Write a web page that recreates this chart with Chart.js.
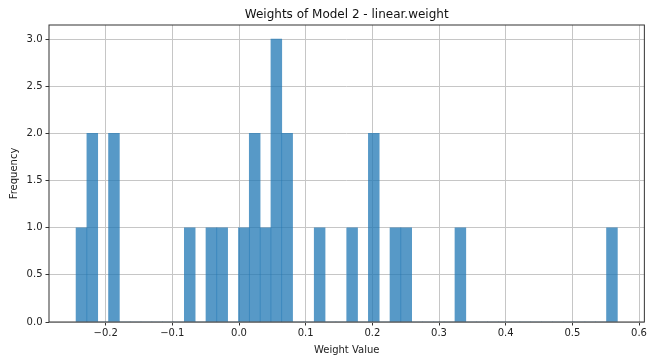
<!DOCTYPE html>
<html>
<head>
<meta charset="utf-8">
<script src="https://cdn.jsdelivr.net/npm/chart.js@4.4.1/dist/chart.umd.min.js"></script>
<style>
  html, body { margin: 0; padding: 0; background: #fff; }
  #wrap { width: 649px; height: 359px; }
</style>
</head>
<body>
<div id="wrap"><canvas id="chart"></canvas></div>
<script>
// histogram: 50 bins between the smallest and largest weight
const binStart = -0.2444;
const binEnd = 0.5675;
const binCounts = [
  1, 2, 0, 2, 0, 0, 0, 0, 0, 0,
  1, 0, 1, 1, 0, 1, 2, 1, 3, 2,
  0, 0, 1, 0, 0, 1, 0, 2, 0, 1,
  1, 0, 0, 0, 0, 1, 0, 0, 0, 0,
  0, 0, 0, 0, 0, 0, 0, 0, 0, 1
];
const xTicks = [-0.2, -0.1, 0.0, 0.1, 0.2, 0.3, 0.4, 0.5, 0.6];
const yTicks = [0.0, 0.5, 1.0, 1.5, 2.0, 2.5, 3.0];

const binWidth = (binEnd - binStart) / binCounts.length;
const histData = binCounts.map((c, i) => ({ x: binStart + (i + 0.5) * binWidth, y: c }));

const fmt = v => v.toFixed(1).replace('-', '\u2212');
const font = { family: 'DejaVu Sans', size: 10 };

// matplotlib draws all four spines and centres the title over the axes
const framePlugin = {
  id: 'frame',
  afterDraw(chart) {
    const { ctx, chartArea: a } = chart;
    ctx.save();
    ctx.strokeStyle = '#333';
    ctx.lineWidth = 1;
    ctx.strokeRect(a.left, a.top, a.right - a.left, a.bottom - a.top);
    ctx.fillStyle = '#111';
    ctx.font = '12px "DejaVu Sans"';
    ctx.textAlign = 'center';
    ctx.textBaseline = 'alphabetic';
    ctx.fillText('Weights of Model 2 - linear.weight', (a.left + a.right) / 2, 17.5);
    ctx.restore();
  }
};

new Chart(document.getElementById('chart'), {
  type: 'bar',
  data: {
    datasets: [{
      data: histData,
      backgroundColor: 'rgba(31, 119, 180, 0.75)',
      borderWidth: 0,
      barPercentage: 1.0,
      categoryPercentage: 1.0
    }]
  },
  options: {
    responsive: true,
    maintainAspectRatio: false,
    animation: false,
    layout: { padding: { top: 25, right: 2, left: 0, bottom: 0 } },
    plugins: {
      legend: { display: false },
      tooltip: { enabled: false },
      title: { display: false }
    },
    scales: {
      x: {
        type: 'linear',
        min: -0.285,
        max: 0.608,
        offset: false,
        afterBuildTicks: axis => { axis.ticks = xTicks.map(v => ({ value: v })); },
        afterFit: axis => { axis.height = 37; },
        ticks: { font, color: '#222', padding: 2, maxRotation: 0, callback: v => fmt(v) },
        grid: { offset: false, color: '#c6c6c6', lineWidth: 1, tickColor: '#333', tickLength: 3.5 },
        border: { display: false },
        title: { display: true, text: 'Weight Value', font, color: '#222', padding: { top: 0, bottom: 3 } }
      },
      y: {
        min: 0,
        max: 3.15,
        afterBuildTicks: axis => { axis.ticks = yTicks.map(v => ({ value: v })); },
        afterFit: axis => { axis.width = 49; },
        ticks: { font, color: '#222', padding: 3, callback: v => fmt(v) },
        grid: { color: '#c6c6c6', lineWidth: 1, tickColor: '#333', tickLength: 3.5 },
        border: { display: false },
        title: { display: true, text: 'Frequency', font, color: '#222', padding: { top: 8, bottom: 0 } }
      }
    }
  },
  plugins: [framePlugin]
});
</script>
</body>
</html>
